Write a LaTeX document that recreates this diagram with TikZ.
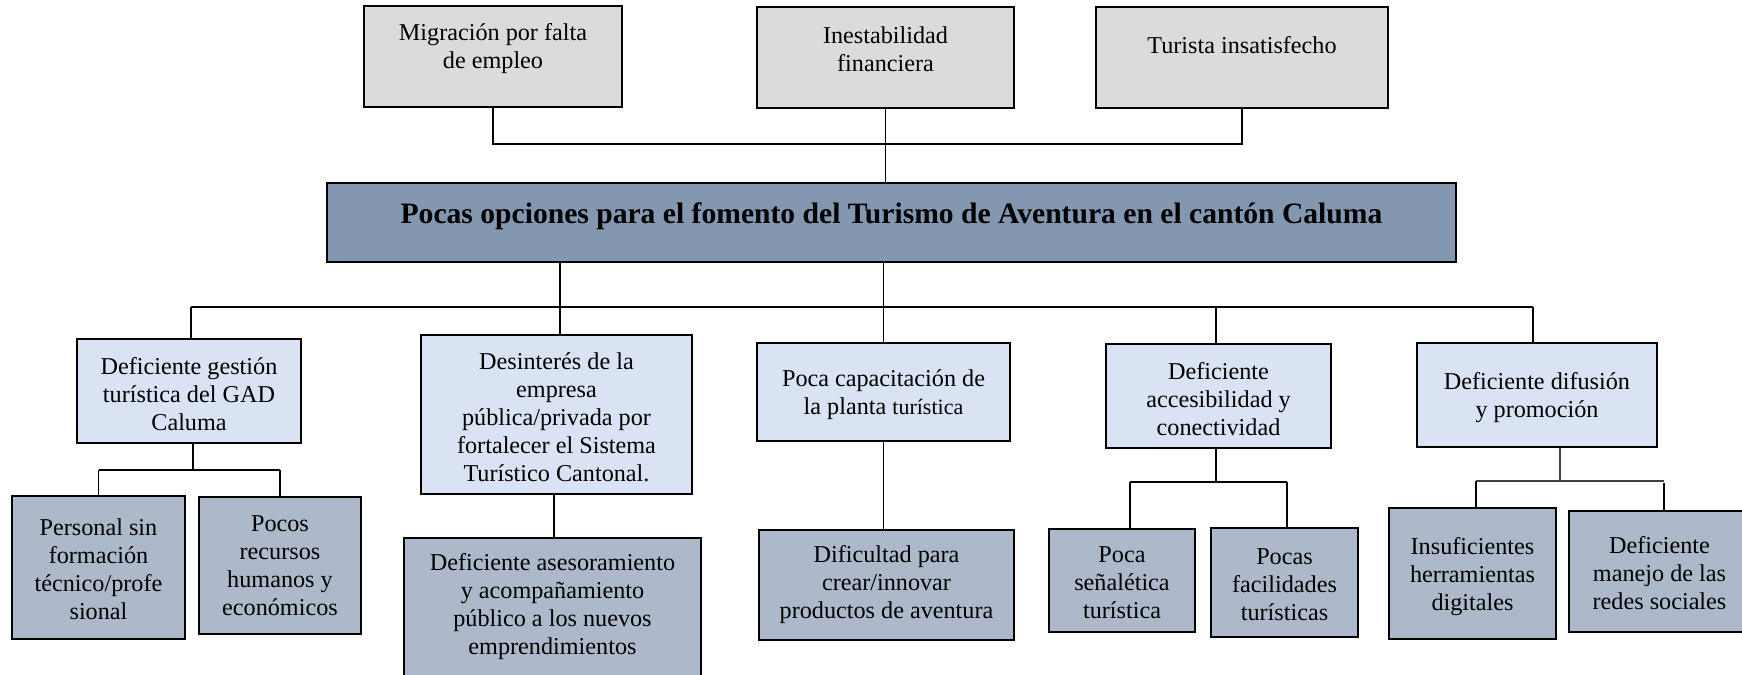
\documentclass[tikz,border=0pt]{standalone}
\usepackage{fontspec}
\setmainfont{Liberation Serif}
\definecolor{cgray}{HTML}{DBDBDB}
\definecolor{cmain}{HTML}{8497B0}
\definecolor{clight}{HTML}{DAE3F3}
\definecolor{cmid}{HTML}{ADB9CA}
\newcommand{\tb}[4]{\parbox[c][#2pt][c]{#1pt}{\centering #4\par\vspace*{#3pt}}}
\begin{document}
\begin{tikzpicture}[x=0.5pt,y=-0.5pt,
  cbox/.style={draw=black, line width=1.1pt, inner sep=0pt, font=\fontsize{12.1}{14}\selectfont},
  topbox/.style={cbox, fill=cgray, line width=1.3pt},
  mainbox/.style={cbox, fill=cmain, line width=1.3pt, font=\fontsize{14.8}{17}\selectfont\bfseries},
  lvltwo/.style={cbox, fill=clight},
  lvlthree/.style={cbox, fill=cmid},
  conn/.style={draw=black, line width=0.6pt}]
\useasboundingbox (0,0) rectangle (1742,675);
\fill[white] (0,0) rectangle (1742,675);

% top row
\node[topbox] (t1) at (493,56.5) {\tb{129}{50.5}{8}{Migración por falta\\de empleo}};
\node[topbox] (t2) at (885.5,57.5) {\tb{128.5}{50.5}{8}{Inestabilidad\\financiera}};
\node[topbox] (t3) at (1242,57.5) {\tb{146}{50.5}{12}{Turista insatisfecho}};

% main problem
\node[mainbox] (main) at (891.5,222.5) {\tb{564.5}{39.5}{6}{Pocas opciones para el fomento del Turismo de Aventura en el cantón Caluma}};

% level 2
\node[lvltwo] (b1) at (189,391) {\tb{112}{52}{-3}{Deficiente gestión\\turística del GAD\\Caluma}};
\node[lvltwo] (b2) at (556.5,414.5) {\tb{135.5}{79.5}{-3}{Desinterés de la\\empresa\\pública/privada por\\fortalecer el Sistema\\Turístico Cantonal.}};
\node[lvltwo] (b3) at (883.5,392) {\tb{126.5}{49}{-3}{Poca capacitación de\\la planta {\fontsize{11}{14}\selectfont turística}}};
\node[lvltwo] (b4) at (1218.5,396) {\tb{112.5}{52}{-3}{Deficiente\\accesibilidad y\\conectividad}};
\node[lvltwo] (b5) at (1537,395) {\tb{120}{52}{-3}{Deficiente difusión\\y promoción}};

% level 3
\node[lvlthree] (c1a) at (98.5,567.5) {\tb{86.5}{71.5}{-2}{Personal sin\\formación\\técnico/profe\\sional}};
\node[lvlthree] (c1b) at (280,565.5) {\tb{81}{68.5}{0}{Pocos\\recursos\\humanos y\\económicos}};
\node[lvlthree] (c2) at (552.5,610) {\tb{148.5}{72}{3}{Deficiente asesoramiento\\y acompañamiento\\público a los nuevos\\emprendimientos}};
\node[lvlthree] (c3) at (886.5,585) {\tb{127.5}{55}{0}{Dificultad para\\crear/innovar\\productos de aventura}};
\node[lvlthree] (c4a) at (1122,580.5) {\tb{73}{51.5}{-2}{Poca\\señalética\\turística}};
\node[lvlthree] (c4b) at (1284.5,582.5) {\tb{73.5}{54.5}{-2}{Pocas\\facilidades\\turísticas}};
\node[lvlthree] (c5a) at (1472.5,573.5) {\tb{83.5}{65.5}{-3}{Insuficientes\\herramientas\\digitales}};
\node[lvlthree] (c5b) at (1659.5,571.5) {\tb{90.5}{60.5}{-2}{Deficiente\\manejo de las\\redes sociales}};

% connectors: effects
\coordinate (jtop) at (887,144);
\draw[conn] (t1.south) -- (t1.south |- jtop) -- (t3.south |- jtop) -- (t3.south);
\draw[conn] (t2.south) -- (t2.south |- main.north);

% connectors: causes
\coordinate (k1) at (191,307);
\coordinate (k4) at (1216,307);
\coordinate (k5) at (1533,307);
\draw[conn] (k1) -- (k5);
\draw[conn] (k1) -- (k1 |- b1.north);
\draw[conn] (k4) -- (k4 |- b4.north);
\draw[conn] (k5) -- (k5 |- b5.north);
\draw[conn] (main.south -| 560,0) -- (b2.north -| 560,0);
\draw[conn] (main.south -| b3.north) -- (b3.north);

% sub-causes
\coordinate (s1) at (193,470);
\draw[conn] (b1.south -| s1) -- (s1);
\draw[conn] (c1a.north |- s1) -- (c1b.north |- s1);
\draw[conn] (c1a.north |- s1) -- (c1a.north);
\draw[conn] (c1b.north |- s1) -- (c1b.north);

\coordinate (s2) at (554,538);
\draw[conn] (b2.south -| s2) -- (c2.north -| s2);

\draw[conn] (b3.south) -- (b3.south |- c3.north);

\coordinate (s4) at (1216,482);
\coordinate (s4a) at (1130,482);
\coordinate (s4b) at (1287,482);
\draw[conn] (b4.south -| s4) -- (s4);
\draw[conn] (s4a) -- (s4b);
\draw[conn] (s4a) -- (s4a |- c4a.north);
\draw[conn] (s4b) -- (s4b |- c4b.north);

\coordinate (s5) at (1560,481);
\coordinate (s5a) at (1476,481);
\coordinate (s5b) at (1664,481);
\draw[conn, draw=black!75, line width=0.9pt] (b5.south -| s5) -- (s5);
\draw[conn, draw=black!75, line width=0.9pt] (s5a) -- (s5b);
\draw[conn] (s5a) -- (s5a |- c5a.north);
\draw[conn] (s5b |- 0,483) -- (s5b |- c5b.north);
\end{tikzpicture}
\end{document}
